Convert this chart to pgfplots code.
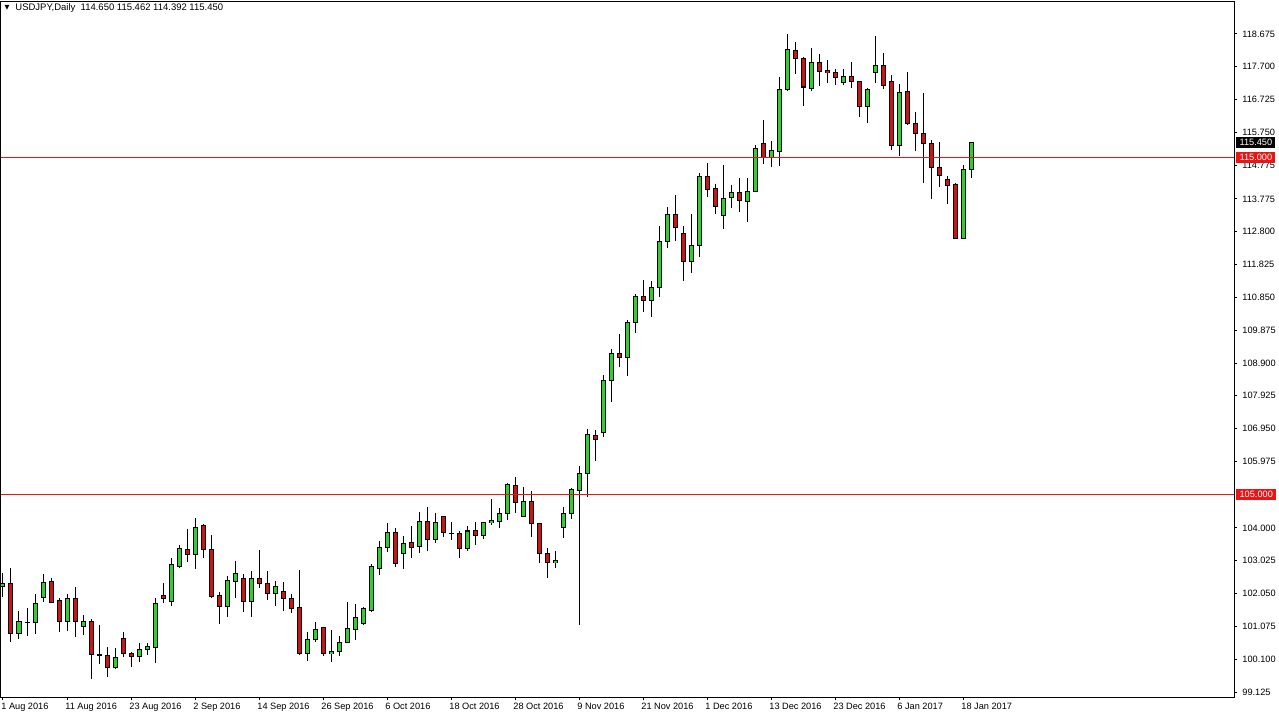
\documentclass[border=0pt]{standalone}
\usepackage{fontspec}
\setmainfont{Liberation Sans}
\newfontfamily\dejavu{DejaVu Sans}
\usepackage{pgfplots}
\usepackage{pgfplotstable}
\pgfplotsset{compat=1.18}
\definecolor{bullc}{RGB}{50,205,50}
\definecolor{bearc}{RGB}{205,20,20}
\definecolor{lvl}{RGB}{235,20,20}

\pgfplotstableread{
i o h l c
0 102.25 102.66 101.95 102.36
2 100.85 101.53 100.70 101.21
4 101.18 102.04 100.85 101.77
5 101.92 102.63 101.80 102.39
8 101.21 102.04 100.94 101.89
10 101.06 101.41 100.82 101.21
14 99.84 100.43 99.81 100.14
17 100.17 100.58 100.02 100.40
18 100.40 100.58 100.23 100.49
19 100.46 101.92 99.99 101.77
21 101.83 103.11 101.68 102.90
22 102.87 103.49 102.81 103.40
24 103.20 104.30 102.78 104.00
28 101.68 102.57 101.35 102.45
29 102.42 103.02 101.92 102.66
31 101.80 102.72 101.35 102.51
34 102.04 102.42 101.68 102.25
38 100.28 100.91 100.05 100.70
39 100.70 101.21 100.61 100.97
41 100.26 100.97 100.02 100.34
42 100.34 100.79 100.20 100.61
43 100.61 101.80 100.58 101.00
44 100.97 101.74 100.67 101.35
45 101.15 101.65 101.12 101.62
46 101.56 102.93 101.50 102.87
47 102.81 103.61 102.60 103.43
48 103.43 104.15 103.29 103.88
50 103.25 103.76 102.78 103.55
52 103.46 104.47 103.25 104.18
54 103.67 104.44 103.55 104.15
58 103.40 104.06 103.31 103.91
60 103.79 104.18 103.67 104.15
61 104.15 104.86 104.09 104.21
62 104.18 104.59 104.00 104.44
63 104.44 105.34 104.24 105.28
65 104.35 105.22 104.34 104.80
69 102.96 103.31 102.81 103.02
70 104.00 104.62 103.70 104.44
71 104.44 105.19 104.27 105.13
72 105.10 105.84 101.12 105.63
73 105.63 106.94 104.92 106.79
75 106.85 108.54 106.70 108.39
76 108.39 109.32 107.74 109.17
78 109.05 110.18 108.51 110.09
79 110.09 110.95 109.79 110.89
81 110.77 111.34 110.27 111.13
82 111.13 112.97 110.86 112.50
83 112.50 113.53 112.32 113.30
86 111.93 113.33 111.57 112.38
87 112.38 114.55 112.05 114.43
90 113.27 114.78 112.88 113.80
91 113.83 114.19 113.50 113.98
93 113.71 114.40 113.09 114.01
94 114.01 115.38 113.98 115.26
96 115.02 115.50 114.72 115.20
97 115.17 117.40 114.75 117.04
98 117.04 118.675 116.98 118.20
101 117.07 118.26 116.98 117.84
105 117.22 117.64 117.16 117.40
108 116.51 117.06 116.03 117.04
109 117.52 118.62 117.22 117.75
112 115.35 117.19 115.05 116.95
120 112.59 114.78 112.57 114.64
121 114.650 115.462 114.392 115.450
}\bull

\pgfplotstableread{
i o h l c
1 102.36 102.81 100.61 100.85
3 101.20 101.62 100.79 101.19
6 102.42 102.51 101.77 101.80
7 101.83 101.92 100.91 101.21
9 101.89 102.25 100.76 101.21
11 101.21 101.30 99.51 100.23
12 100.23 101.12 99.96 100.22
13 100.20 100.46 99.57 99.84
15 100.73 100.91 100.17 100.28
16 100.28 100.31 99.87 100.17
20 101.98 102.36 101.77 101.89
23 103.37 103.97 102.99 103.20
25 104.06 104.12 103.11 103.37
26 103.37 103.79 101.92 101.95
27 101.98 102.10 101.15 101.68
30 102.51 102.63 101.50 101.80
32 102.51 103.34 102.22 102.36
33 102.36 102.72 101.86 102.04
35 102.10 102.39 101.53 101.89
36 101.89 102.04 101.47 101.62
37 101.65 102.75 100.23 100.26
40 101.03 101.06 100.20 100.28
49 103.88 104.00 102.84 102.93
51 103.58 104.06 103.11 103.43
53 104.18 104.62 103.31 103.67
55 104.33 104.35 103.73 103.85
56 103.85 104.18 103.64 103.84
57 103.85 103.91 103.11 103.40
59 103.91 104.18 103.49 103.79
64 105.25 105.51 104.44 104.77
66 104.80 105.10 103.73 104.12
67 104.12 104.15 102.96 103.25
68 103.25 103.40 102.51 102.96
74 106.76 106.91 106.00 106.64
77 109.17 109.76 108.78 109.05
80 110.89 111.37 110.42 110.77
84 113.30 113.89 112.53 112.94
85 112.76 112.97 111.34 111.93
88 114.43 114.84 113.83 114.07
89 114.07 114.22 113.33 113.54
92 113.98 114.40 113.39 113.74
95 115.41 116.12 114.81 115.02
99 118.20 118.44 117.49 117.96
100 117.96 117.99 116.54 117.10
102 117.84 118.08 117.13 117.55
103 117.58 117.90 117.22 117.52
104 117.52 117.64 117.16 117.37
106 117.40 117.84 117.07 117.25
107 117.25 117.27 116.21 116.51
110 117.75 118.11 117.04 117.13
111 117.25 117.46 115.23 115.35
113 116.98 117.55 115.97 116.03
114 116.03 116.36 115.20 115.73
115 115.73 116.92 114.25 115.41
116 115.41 115.53 113.77 114.72
117 114.72 115.47 114.13 114.46
118 114.34 114.46 113.62 114.16
119 114.19 114.25 112.57 112.59
}\bear

\pgfplotsset{
  wick/.style={draw=none, mark=none, forget plot,
    error bars/.cd, y dir=both, y explicit, error mark=none,
    error bar style={draw=black, line width=0.5pt}},
  bodyout/.style={draw=none, mark=none, forget plot,
    error bars/.cd, y dir=both, y explicit, error mark=none,
    error bar style={draw=black, line width=2.5pt}},
  bodyin/.style={draw=none, mark=none, forget plot,
    error bars/.cd, y dir=both, y explicit, error mark=none,
    error bar style={draw=#1, line width=1.5pt}},
}

\begin{document}
\begin{tikzpicture}
\path[use as bounding box] (-0.5pt,-11pt) rectangle (639pt,348.5pt);
\begin{axis}[
  scale only axis, width=616.5pt, height=348pt,
  xmin=-0.25, xmax=153.875, ymin=98.977, ymax=119.655,
  clip=false,
  axis line style={line width=0.5pt, black},
  ytick={118.675,117.7,116.725,115.75,114.775,113.775,112.8,111.825,110.85,109.875,108.9,107.925,106.95,105.975,104.0,103.025,102.05,101.075,100.1,99.125},
  yticklabels={118.675,117.700,116.725,115.750,114.775,113.775,112.800,111.825,110.850,109.875,108.900,107.925,106.950,105.975,104.000,103.025,102.050,101.075,100.100,99.125},
  ytick pos=right, yticklabel pos=right,
  xtick={0,8,...,120},
  xticklabels={1 Aug 2016,11 Aug 2016,23 Aug 2016,2 Sep 2016,14 Sep 2016,26 Sep 2016,6 Oct 2016,18 Oct 2016,28 Oct 2016,9 Nov 2016,21 Nov 2016,1 Dec 2016,13 Dec 2016,23 Dec 2016,6 Jan 2017,18 Jan 2017},
  xtick pos=bottom,
  tick align=outside, major tick length=1.5pt,
  tick style={black, line width=0.5pt},
  ticklabel style={font=\fontsize{4.6pt}{5pt}\selectfont, inner sep=0pt},
  yticklabel style={anchor=west, xshift=2.5pt},
  xticklabel style={anchor=north west, xshift=-1pt, yshift=-1.5pt},
]
\addplot[wick] table[x=i, y expr={(\thisrow{h}+\thisrow{l})/2}, y error expr={(\thisrow{h}-\thisrow{l})/2}] {\bull};
\addplot[wick] table[x=i, y expr={(\thisrow{h}+\thisrow{l})/2}, y error expr={(\thisrow{h}-\thisrow{l})/2}] {\bear};

\addplot[bodyout] table[x=i, y expr={(\thisrow{o}+\thisrow{c})/2}, y error expr={abs(\thisrow{c}-\thisrow{o})/2+0.0149}] {\bull};
\addplot[bodyout] table[x=i, y expr={(\thisrow{o}+\thisrow{c})/2}, y error expr={abs(\thisrow{c}-\thisrow{o})/2+0.0149}] {\bear};
\addplot[bodyin=bullc] table[x=i, y expr={(\thisrow{o}+\thisrow{c})/2}, y error expr={max(abs(\thisrow{c}-\thisrow{o})/2-0.0149,0)}] {\bull};
\addplot[bodyin=bearc] table[x=i, y expr={(\thisrow{o}+\thisrow{c})/2}, y error expr={max(abs(\thisrow{c}-\thisrow{o})/2-0.0149,0)}] {\bear};

\addplot[draw=lvl, line width=0.65pt, forget plot] coordinates {(-0.25,115) (153.875,115)};
\addplot[draw=lvl, line width=0.65pt, forget plot] coordinates {(-0.25,105) (153.875,105)};

\coordinate (b1) at (axis cs:153.875,115.45);
\coordinate (b2) at (axis cs:153.875,115.0);
\coordinate (b3) at (axis cs:153.875,105.0);
\end{axis}
\tikzset{pbox/.style={anchor=west, inner xsep=1.6pt, inner ysep=0pt, minimum height=5.5pt, text=white, font=\fontsize{4.6pt}{5pt}\selectfont}}
\node[pbox, fill=black] at ([xshift=1pt]b1) {115.450};
\node[pbox, fill=lvl] at ([xshift=1pt]b2) {115.000};
\node[pbox, fill=lvl] at ([xshift=1pt]b3) {105.000};
\node[inner sep=0pt, font=\dejavu\fontsize{3.2pt}{4pt}\selectfont] at (3pt,344.6pt) {▼};
\node[anchor=west, inner sep=0pt, font=\fontsize{4.75pt}{5pt}\selectfont] at (7pt,344.6pt) {USDJPY,Daily\ \ 114.650 115.462 114.392 115.450};
\end{tikzpicture}
\end{document}
